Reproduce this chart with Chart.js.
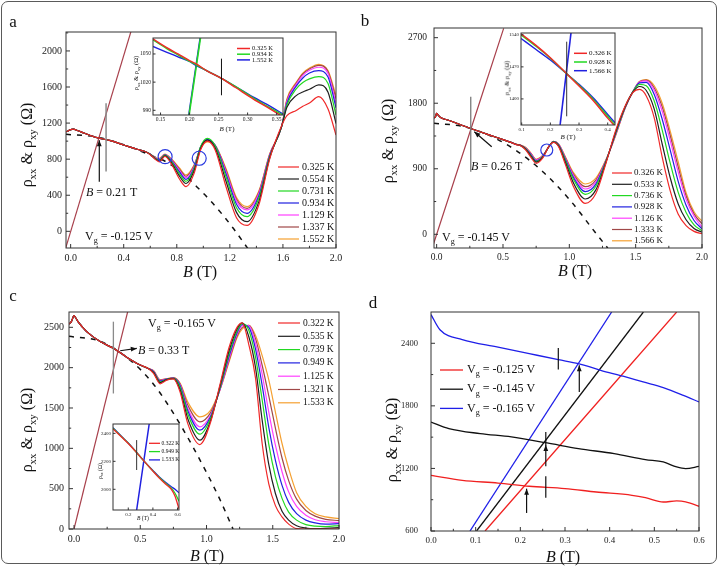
<!DOCTYPE html>
<html>
<head>
<meta charset="utf-8">
<title>rho_xx and rho_xy versus B</title>
<script src="https://cdn.jsdelivr.net/npm/chart.js@4.4.1/dist/chart.umd.min.js"></script>
<style>
  body { margin: 0; background: #fff; }
  #fig { position: relative; width: 720px; height: 567px; overflow: hidden;
         font-family: "Liberation Serif", "DejaVu Serif", serif; color: #111; }
  #fig canvas { position: absolute; }
  .frame { position: absolute; left: 1px; top: 1px; width: 714px; height: 561px;
           border: 1.5px solid #5a5a5a; border-radius: 7px; }
  .t { position: absolute; white-space: nowrap; line-height: 1; }
  .t sub { font-size: 68%; vertical-align: baseline; position: relative; top: 0.35em; }
</style>
</head>
<body>
<div id="fig"><div class="frame"></div></div>
<script>
// ---------- data ----------
var colors7 = ['#f02828', '#202020', '#22d822', '#2020e0', '#ff40ff', '#a04848', '#f5a030'];
var hallColor = '#a8404c';

// panel a, Vg = -0.125 V
var tempsA = ['0.325 K', '0.554 K', '0.731 K', '0.934 K', '1.129 K', '1.337 K', '1.552 K'];
var aLowB = [-0.035, -0.02, 0.0, 0.02, 0.05, 0.1, 0.2, 0.3, 0.4, 0.5, 0.56];
var aLowR = [1105, 1112, 1128, 1132, 1118, 1090, 1038, 1005, 957, 910, 885];
var aHighB = [0.6, 0.64, 0.67, 0.71, 0.76, 0.82, 0.87, 0.93, 0.98, 1.03, 1.09, 1.17, 1.25, 1.33,
              1.42, 1.5, 1.59, 1.63, 1.7, 1.75, 1.8, 1.87, 1.94, 2.0];
var aHighR = [
  [850, 795, 770, 830, 745, 580, 495, 640, 905, 1000, 900, 500, 150, 65, 300, 800, 1170, 1283, 1340, 1386, 1423, 1493, 1356, 1068],
  [852, 800, 780, 838, 760, 612, 530, 668, 922, 1012, 922, 560, 210, 107, 335, 812, 1165, 1375, 1505, 1545, 1575, 1623, 1542, 1195],
  [854, 805, 788, 845, 772, 638, 555, 690, 940, 1030, 945, 610, 262, 163, 375, 825, 1160, 1400, 1580, 1650, 1690, 1715, 1640, 1290],
  [855, 808, 794, 848, 782, 658, 575, 702, 938, 1020, 950, 642, 300, 200, 400, 835, 1160, 1420, 1610, 1700, 1755, 1781, 1710, 1370],
  [856, 810, 800, 850, 790, 675, 595, 716, 934, 1010, 952, 665, 335, 237, 425, 845, 1160, 1440, 1630, 1730, 1785, 1819, 1750, 1420],
  [857, 812, 805, 852, 796, 690, 610, 726, 928, 1002, 952, 682, 355, 255, 440, 852, 1160, 1455, 1640, 1745, 1800, 1841, 1770, 1470],
  [858, 815, 810, 855, 802, 702, 625, 736, 922, 992, 950, 700, 375, 274, 452, 858, 1160, 1467, 1652, 1755, 1810, 1852, 1782, 1505]
];
var aDashB = [-0.035, 0.2, 0.4, 0.6, 0.72, 0.87, 0.95, 1.05, 1.15, 1.23, 1.34];
var aDashR = [1075, 1045, 960, 845, 770, 610, 495, 345, 175, 25, -200];
var aHallB = [-0.04, 0.455];
var aHallR = [-198, 2217];

// panel a inset
var iaLegend = ['0.325 K', '0.934 K', '1.552 K'];
var iaB = [0.137, 0.16, 0.18, 0.2, 0.21, 0.23, 0.255, 0.28, 0.31, 0.34, 0.361];
var iaR = [
  [1066, 1057, 1050, 1043, 1040, 1032, 1024, 1014, 1002, 991, 983],
  [1065, 1056, 1049, 1042, 1039, 1032, 1024, 1015, 1003, 992, 985],
  [1058, 1052, 1047, 1042, 1038, 1032, 1024, 1015, 1004, 994, 986]
];
var iaHallB = [[0.1992, 0.2188], [0.1985, 0.2181]];
var iaHallR = [985, 1067];

// panel b, Vg = -0.145 V
var tempsB = ['0.326 K', '0.533 K', '0.736 K', '0.928 K', '1.126 K', '1.333 K', '1.566 K'];
var bLowB = [-0.02, -0.01, 0.0, 0.01, 0.03, 0.1, 0.2, 0.3, 0.4, 0.5, 0.56];
var bLowR = [1600, 1610, 1660, 1640, 1605, 1560, 1490, 1425, 1362, 1300, 1262];
var bHighB = [0.6, 0.63, 0.67, 0.71, 0.75, 0.8, 0.85, 0.88, 0.92, 0.97, 1.03, 1.12, 1.2, 1.28, 1.35,
              1.42, 1.48, 1.53, 1.58, 1.64, 1.7, 1.76, 1.82, 1.88, 1.94, 2.0];
var bHighR = [
  [1232, 1220, 1160, 1060, 975, 1050, 1220, 1262, 1200, 960, 660, 425, 560, 1000, 1430, 1760, 1950, 1990, 1900, 1600, 1060, 600, 280, 120, 40, 8],
  [1233, 1221, 1170, 1075, 990, 1060, 1218, 1266, 1210, 990, 710, 485, 610, 1010, 1410, 1750, 1955, 2030, 1975, 1720, 1240, 780, 420, 200, 80, 30],
  [1234, 1222, 1175, 1085, 1000, 1065, 1216, 1270, 1220, 1015, 760, 549, 660, 1020, 1400, 1745, 1960, 2060, 2040, 1830, 1430, 980, 580, 300, 130, 50],
  [1235, 1223, 1180, 1095, 1010, 1070, 1215, 1272, 1225, 1030, 785, 586, 690, 1025, 1390, 1740, 1962, 2080, 2085, 1920, 1580, 1160, 730, 400, 190, 75],
  [1236, 1224, 1185, 1105, 1020, 1075, 1214, 1274, 1230, 1045, 810, 622, 720, 1030, 1380, 1735, 1962, 2090, 2108, 1980, 1690, 1290, 860, 480, 250, 100],
  [1237, 1225, 1190, 1110, 1025, 1080, 1213, 1275, 1235, 1055, 830, 654, 745, 1035, 1370, 1732, 1962, 2098, 2118, 2010, 1750, 1360, 930, 530, 280, 145],
  [1238, 1226, 1195, 1115, 1030, 1085, 1212, 1276, 1240, 1065, 850, 691, 770, 1040, 1360, 1730, 1960, 2100, 2125, 2040, 1800, 1420, 1000, 570, 310, 180]
];
var bDashB = [-0.02, 0.2, 0.4, 0.6, 0.8, 1.0, 1.2, 1.29];
var bDashR = [1525, 1480, 1355, 1150, 860, 480, 15, -190];
var bHallB = [-0.04, 0.505];
var bHallR = [-224, 2828];

// panel b inset
var ibLegend = ['0.326 K', '0.928 K', '1.566 K'];
var ibB = [0.0976, 0.15, 0.2, 0.257, 0.3, 0.35, 0.4, 0.4255];
var ibR = [
  [1542, 1517, 1490, 1455, 1428, 1396, 1358, 1340],
  [1540, 1515, 1489, 1455, 1430, 1399, 1362, 1343],
  [1532, 1508, 1485, 1455, 1432, 1402, 1366, 1348]
];
var ibHallB = [0.234, 0.272];
var ibHallR = [1343, 1544];

// panel c, Vg = -0.165 V
var tempsC = ['0.322 K', '0.535 K', '0.739 K', '0.949 K', '1.125 K', '1.321 K', '1.533 K'];
var cLowB = [-0.038, -0.02, 0.0, 0.01, 0.03, 0.06, 0.1, 0.2, 0.3, 0.4, 0.5, 0.56];
var cLowR = [2540, 2570, 2645, 2625, 2570, 2510, 2440, 2320, 2238, 2127, 2032, 1990];
var cHighB = [0.6, 0.65, 0.7, 0.75, 0.8, 0.86, 0.95, 1.03, 1.1, 1.17, 1.23, 1.27, 1.32, 1.37, 1.42,
              1.47, 1.52, 1.57, 1.62, 1.68, 1.75, 1.82, 1.9, 2.0];
var cHighR = [
  [1930, 1800, 1845, 1860, 1700, 1300, 1047, 1320, 1780, 2250, 2500, 2555, 2280, 1870, 1060, 560, 290, 150, 60, 5, 0, 0, 0, 0],
  [1940, 1815, 1852, 1865, 1730, 1360, 1101, 1340, 1760, 2210, 2480, 2555, 2380, 2000, 1350, 800, 440, 220, 110, 40, 12, 5, 8, 18],
  [1945, 1825, 1856, 1868, 1760, 1420, 1175, 1370, 1740, 2170, 2450, 2545, 2460, 2130, 1600, 1050, 650, 380, 210, 110, 55, 35, 30, 43],
  [1950, 1835, 1858, 1870, 1780, 1460, 1225, 1390, 1730, 2140, 2430, 2535, 2500, 2230, 1780, 1260, 850, 540, 330, 190, 110, 75, 60, 66],
  [1955, 1840, 1860, 1872, 1790, 1490, 1267, 1410, 1720, 2110, 2410, 2520, 2520, 2300, 1920, 1450, 1040, 710, 460, 280, 170, 115, 90, 80],
  [1960, 1845, 1862, 1874, 1800, 1530, 1328, 1440, 1720, 2090, 2390, 2500, 2525, 2360, 2030, 1650, 1250, 880, 600, 370, 230, 160, 120, 105],
  [1965, 1850, 1865, 1876, 1810, 1570, 1391, 1470, 1720, 2070, 2370, 2480, 2525, 2400, 2150, 1850, 1450, 1060, 750, 450, 280, 190, 150, 129]
];
var cDashB = [-0.038, 0.2, 0.4, 0.6, 0.8, 1.0, 1.1, 1.2];
var cDashR = [2390, 2325, 2125, 1795, 1300, 700, 370, 0];
var cHallB = [0.0, 0.406];
var cHallR = [0, 2700];

// panel c inset
var icLegend = ['0.322 K', '0.949 K', '1.533 K'];
var icB = [0.076, 0.15, 0.2, 0.25, 0.33, 0.4, 0.45, 0.5, 0.55, 0.58, 0.612];
var icR = [
  [2432, 2370, 2328, 2280, 2200, 2130, 2082, 2040, 2000, 1950, 1860],
  [2436, 2372, 2330, 2281, 2200, 2132, 2086, 2046, 2008, 1972, 1915],
  [2440, 2375, 2331, 2282, 2200, 2135, 2090, 2052, 2018, 2000, 1975]
];
var icHallB = [0.268, 0.37];
var icHallR = [1852, 2467];

// panel d, T = 0.3 K, three gate voltages
var gates = ['-0.125 V', '-0.145 V', '-0.165 V'];
var gateColors = ['#f02020', '#111111', '#1f1fe8'];
var dXxB = [
  [0, 0.07, 0.15, 0.22, 0.3, 0.37, 0.45, 0.48, 0.52, 0.55, 0.57, 0.6],
  [0, 0.04, 0.11, 0.18, 0.26, 0.33, 0.41, 0.48, 0.52, 0.55, 0.57, 0.6],
  [0, 0.02, 0.07, 0.15, 0.22, 0.285, 0.33, 0.38, 0.43, 0.475, 0.52, 0.565, 0.6]
];
var dXxR = [
  [1134, 1086, 1060, 1029, 1007, 974, 942, 920, 878, 888, 880, 837],
  [1645, 1582, 1534, 1502, 1444, 1390, 1342, 1285, 1262, 1214, 1198, 1220],
  [2675, 2530, 2435, 2364, 2301, 2243, 2205, 2141, 2084, 2029, 1975, 1901, 1837]
];
var dXyB = [[0.121, 0.55], [0.102, 0.4755], [0.0873, 0.4045]];
var dXyR = [600, 2700];

// tick labels
var xTicksA = [0, 0.4, 0.8, 1.2, 1.6, 2.0], yTicksA = [0, 400, 800, 1200, 1600, 2000];
var xTicksB = [0, 0.5, 1.0, 1.5, 2.0], yTicksB = [0, 900, 1800, 2700];
var xTicksC = [0, 0.5, 1.0, 1.5, 2.0], yTicksC = [0, 500, 1000, 1500, 2000, 2500];
var xTicksD = [0, 0.1, 0.2, 0.3, 0.4, 0.5, 0.6], yTicksD = [600, 1200, 1800, 2400];
var xTicksIA = [0.15, 0.2, 0.25, 0.3, 0.35], yTicksIA = [990, 1020, 1050];
var xTicksIB = [0.1, 0.2, 0.3, 0.4], yTicksIB = [1400, 1470, 1540];
var xTicksIC = [0.2, 0.4, 0.6], yTicksIC = [2000, 2200, 2400];

// ---------- helpers ----------
var fig = document.getElementById('fig');
var SERIF = "'Liberation Serif', serif";

function pts(xs, ys) {
  return xs.map(function (x, i) { return {x: x, y: ys[i]}; });
}

function curve(xs, ys, color, w, dash) {
  return {
    data: pts(xs, ys), showLine: true, borderColor: color, backgroundColor: color,
    borderWidth: w || 1.2, borderDash: dash || [], pointRadius: 0,
    cubicInterpolationMode: 'monotone', fill: false
  };
}

function tempCurves(lowB, lowR, highB, highR) {
  return highR.map(function (r, i) {
    return curve(lowB.concat(highB), lowR.concat(r), colors7[i], 1.2);
  });
}

function legendItems(labels, colors) {
  return labels.map(function (l, i) { return {color: colors[i], parts: [[l, 0]]}; });
}

function axis(range, ticks, dec, size, pad, thick, horiz) {
  return {
    type: 'linear', min: range[0], max: range[1],
    grid: {display: false, drawTicks: false}, border: {display: false},
    ticks: {
      autoSkip: false, maxRotation: 0, padding: pad, color: '#222',
      font: {family: SERIF, size: size},
      callback: function (v) { return v.toFixed(dec); }
    },
    afterBuildTicks: function (s) { s.ticks = ticks.map(function (v) { return {value: v}; }); },
    afterFit: function (s) { if (horiz) s.height = thick; else s.width = thick; }
  };
}

// box drawn round the plot area, with ticks pointing inwards
var framePlugin = {
  id: 'frame',
  beforeDatasetsDraw: function (chart, args, o) {
    if (!o.fill) return;
    var a = chart.chartArea, ctx = chart.ctx;
    ctx.save();
    ctx.fillStyle = '#fff';
    ctx.fillRect(a.left, a.top, a.right - a.left, a.bottom - a.top);
    ctx.restore();
  },
  afterDraw: function (chart, args, o) {
    var a = chart.chartArea, ctx = chart.ctx, len = o.len;
    ctx.save();
    ctx.strokeStyle = '#333';
    ctx.lineWidth = 1;
    ctx.strokeRect(a.left, a.top, a.right - a.left, a.bottom - a.top);
    ['x', 'y'].forEach(function (id) {
      var s = chart.scales[id];
      var v = s.ticks.map(function (t) { return t.value; });
      var list = v.map(function (t) { return [t, len]; });
      if (o.minor) {
        var st = v[1] - v[0];
        for (var i = -1; i < v.length; i++) {
          var m = v[0] + (i + 0.5) * st;
          if (m > s.min && m < s.max) list.push([m, len * 0.55]);
        }
      }
      list.forEach(function (t) {
        var p = s.getPixelForValue(t[0]);
        ctx.beginPath();
        if (id === 'x') { ctx.moveTo(p, a.bottom); ctx.lineTo(p, a.bottom - t[1]); }
        else { ctx.moveTo(a.left, p); ctx.lineTo(a.left + t[1], p); }
        ctx.stroke();
      });
    });
    ctx.restore();
  }
};

// markers (bars, arrows, circles) and the legend
var marksPlugin = {
  id: 'marks',
  afterDatasetsDraw: function (chart, args, o) {
    var ctx = chart.ctx, sx = chart.scales.x, sy = chart.scales.y;
    ctx.save();
    (o.items || []).forEach(function (m) {
      ctx.strokeStyle = m.color;
      ctx.fillStyle = m.color;
      ctx.lineWidth = m.w || 1.2;
      var x1 = sx.getPixelForValue(m.at[0]), y1 = sy.getPixelForValue(m.at[1]);
      if (m.type === 'circle') {
        ctx.beginPath();
        ctx.arc(x1, y1, m.r, 0, Math.PI * 2);
        ctx.stroke();
        return;
      }
      var x2 = sx.getPixelForValue(m.to[0]), y2 = sy.getPixelForValue(m.to[1]);
      ctx.beginPath();
      ctx.moveTo(x1, y1);
      ctx.lineTo(x2, y2);
      ctx.stroke();
      if (m.type === 'arrow') {
        var ang = Math.atan2(y2 - y1, x2 - x1), h = 6, hw = 2.4;
        var bx = x2 - h * Math.cos(ang), by = y2 - h * Math.sin(ang);
        ctx.beginPath();
        ctx.moveTo(x2, y2);
        ctx.lineTo(bx + hw * Math.sin(ang), by - hw * Math.cos(ang));
        ctx.lineTo(bx - hw * Math.sin(ang), by + hw * Math.cos(ang));
        ctx.closePath();
        ctx.fill();
      }
    });
    var g = o.legend;
    if (g) {
      g.items.forEach(function (it, i) {
        var y = g.y - o.off[1] + i * g.dy, x = g.x - o.off[0];
        ctx.strokeStyle = it.color;
        ctx.lineWidth = g.lw;
        ctx.beginPath();
        ctx.moveTo(x, y);
        ctx.lineTo(x + g.len, y);
        ctx.stroke();
        x += g.len + g.gap;
        ctx.fillStyle = '#111';
        ctx.textBaseline = 'middle';
        ctx.textAlign = 'left';
        it.parts.forEach(function (pt) {
          var size = pt[1] ? g.size * 0.68 : g.size;
          ctx.font = size + 'px ' + SERIF;
          ctx.fillText(pt[0], x, y + (pt[1] ? g.size * 0.35 : 0));
          x += ctx.measureText(pt[0]).width;
        });
      });
    }
    ctx.restore();
  }
};

function panel(p) {
  var c = document.createElement('canvas');
  c.width = p.box[2];
  c.height = p.box[3];
  c.style.left = p.box[0] + 'px';
  c.style.top = p.box[1] + 'px';
  fig.appendChild(c);
  var left = p.area[0] - p.box[0], top = p.area[1] - p.box[1];
  var right = p.box[0] + p.box[2] - p.area[2], bottom = p.box[1] + p.box[3] - p.area[3];
  return new Chart(c, {
    type: 'scatter',
    data: {datasets: p.datasets},
    options: {
      responsive: false, animation: false, events: [],
      layout: {padding: {left: 0, top: top, right: right, bottom: 0}},
      plugins: {
        legend: {display: false}, tooltip: {enabled: false},
        frame: {len: p.tickLen, minor: p.minor, fill: p.fill},
        marks: {off: p.box, items: p.marks || [], legend: p.legend}
      },
      scales: {
        x: axis(p.x, p.xTicks, p.xDec, p.xFont || p.font, p.xPad, bottom, true),
        y: axis(p.y, p.yTicks, 0, p.font, p.yPad, left, false)
      }
    },
    plugins: [framePlugin, marksPlugin]
  });
}

function text(html, x, y, size, rot, leftAlign) {
  var d = document.createElement('div');
  d.className = 't';
  d.innerHTML = html;
  d.style.left = x + 'px';
  d.style.top = y + 'px';
  d.style.fontSize = size + 'px';
  d.style.transform = (leftAlign ? 'translate(0,-50%)' : 'translate(-50%,-50%)') + (rot ? ' rotate(-90deg)' : '');
  fig.appendChild(d);
}

// ---------- main panels ----------
panel({
  box: [0, 0, 360, 280], area: [66, 32, 336, 248],
  x: [-0.035, 2.0], y: [-185, 2210], xTicks: xTicksA, yTicks: yTicksA, xDec: 1,
  font: 10, xPad: 4, yPad: 4, tickLen: 4, minor: true,
  datasets: tempCurves(aLowB, aLowR, aHighB, aHighR).concat([
    curve(aDashB, aDashR, '#111', 1.5, [5, 6]),
    curve(aHallB, aHallR, hallColor, 1.2)
  ]),
  marks: [
    {type: 'line', at: [0.267, 662], to: [0.267, 1420], color: '#8a8a8a', w: 1.5},
    {type: 'arrow', at: [0.216, 550], to: [0.216, 1010], color: '#111', w: 1.2},
    {type: 'circle', at: [0.712, 828], r: 7, color: '#2a3ae0'},
    {type: 'circle', at: [0.969, 810], r: 7, color: '#2a3ae0'}
  ],
  legend: {x: 278, y: 167, dy: 12, len: 21, gap: 3, size: 10, lw: 1.2, items: legendItems(tempsA, colors7)}
});

panel({
  box: [360, 0, 360, 280], area: [434, 28, 702, 248],
  x: [-0.02, 2.0], y: [-188, 2833], xTicks: xTicksB, yTicks: yTicksB, xDec: 1,
  font: 9.5, xPad: 4, yPad: 7, tickLen: 4, minor: true,
  datasets: tempCurves(bLowB, bLowR, bHighB, bHighR).concat([
    curve(bDashB, bDashR, '#111', 1.5, [5, 6]),
    curve(bHallB, bHallR, hallColor, 1.2)
  ]),
  marks: [
    {type: 'line', at: [0.257, 860], to: [0.257, 1890], color: '#7a7a7a', w: 1.3},
    {type: 'arrow', at: [0.415, 1203], to: [0.284, 1409], color: '#111', w: 1.2},
    {type: 'circle', at: [0.83, 1158], r: 6, color: '#2a3ae0'}
  ],
  legend: {x: 612, y: 173, dy: 11.3, len: 20, gap: 2, size: 9, lw: 1.2, items: legendItems(tempsB, colors7)}
});

panel({
  box: [0, 280, 360, 287], area: [69, 312, 339, 529],
  x: [-0.038, 2.0], y: [0, 2690], xTicks: xTicksC, yTicks: yTicksC, xDec: 1,
  font: 10, xPad: 4, yPad: 5, tickLen: 4, minor: true,
  datasets: tempCurves(cLowB, cLowR, cHighB, cHighR).concat([
    curve(cDashB, cDashR, '#111', 1.5, [5, 6]),
    curve(cHallB, cHallR, hallColor, 1.2)
  ]),
  marks: [
    {type: 'line', at: [0.297, 1680], to: [0.297, 2570], color: '#8a8a8a', w: 1.3},
    {type: 'arrow', at: [0.348, 2210], to: [0.474, 2239], color: '#111', w: 1.2}
  ],
  legend: {x: 278, y: 323, dy: 13.3, len: 22, gap: 3, size: 9.5, lw: 1.2, items: legendItems(tempsC, colors7)}
});

panel({
  box: [360, 280, 360, 287], area: [431, 312, 699, 531],
  x: [0, 0.6], y: [600, 2700], xTicks: xTicksD, yTicks: yTicksD, xDec: 1,
  font: 8.5, xFont: 9, xPad: 4, yPad: 13, tickLen: 4, minor: true,
  datasets: dXxR.map(function (r, i) { return curve(dXxB[i], r, gateColors[i], 1.3); })
    .concat(dXyB.map(function (b, i) { return curve(b, dXyR, gateColors[i], 1.3); })),
  marks: [
    {type: 'line', at: [0.285, 2148], to: [0.285, 2355], color: '#111', w: 1.2},
    {type: 'arrow', at: [0.332, 1933], to: [0.332, 2189], color: '#111', w: 1.2},
    {type: 'line', at: [0.257, 1420], to: [0.257, 1549], color: '#111', w: 1.2},
    {type: 'arrow', at: [0.257, 1220], to: [0.257, 1425], color: '#111', w: 1.2},
    {type: 'line', at: [0.257, 920], to: [0.257, 1125], color: '#111', w: 1.2},
    {type: 'arrow', at: [0.214, 773], to: [0.214, 1006], color: '#111', w: 1.2}
  ],
  legend: {x: 440, y: 370, dy: 19.2, len: 23, gap: 4, size: 12, lw: 1.3,
    items: gates.map(function (g, i) {
      return {color: gateColors[i], parts: [['V', 0], ['g', 1], [' = ' + g, 0]]};
    })}
});

// ---------- insets ----------
var insetColors = [colors7[0], colors7[2], colors7[3]];

panel({
  box: [126, 28, 169, 109], area: [153, 38, 283, 115],
  x: [0.137, 0.361], y: [985, 1067], xTicks: xTicksIA, yTicks: yTicksIA, xDec: 2,
  font: 5.5, xPad: 1.5, yPad: 2, tickLen: 2.5, minor: false, fill: true,
  datasets: iaR.map(function (r, i) { return curve(iaB, r, insetColors[i], 1.4); })
    .concat([curve(iaHallB[0], iaHallR, insetColors[1], 1.6), curve(iaHallB[1], iaHallR, insetColors[2], 1.4)]),
  marks: [{type: 'line', at: [0.255, 1006], to: [0.255, 1045], color: '#111', w: 1}],
  legend: {x: 237, y: 48.5, dy: 5.7, len: 13, gap: 2, size: 6.5, lw: 1.5, items: legendItems(iaLegend, insetColors)}
});

panel({
  box: [498, 24, 127, 118], area: [521, 33, 615, 125],
  x: [0.0976, 0.4255], y: [1343, 1544], xTicks: xTicksIB, yTicks: yTicksIB, xDec: 1,
  font: 5, xPad: 1.5, yPad: 2, tickLen: 2.5, minor: false, fill: true,
  datasets: ibR.map(function (r, i) { return curve(ibB, r, insetColors[i], 1.4); })
    .concat([curve(ibHallB, ibHallR, insetColors[2], 1.6)]),
  marks: [{type: 'line', at: [0.257, 1362], to: [0.257, 1525], color: '#333', w: 1}],
  legend: {x: 574, y: 53.3, dy: 8.7, len: 13, gap: 2, size: 7, lw: 1.5, items: legendItems(ibLegend, insetColors)}
});

panel({
  box: [95, 415, 95, 107], area: [113, 424, 179, 510],
  x: [0.076, 0.612], y: [1852, 2467], xTicks: xTicksIC, yTicks: yTicksIC, xDec: 1,
  font: 5, xPad: 1.5, yPad: 2, tickLen: 2.5, minor: false, fill: true,
  datasets: icR.map(function (r, i) { return curve(icB, r, insetColors[i], 1.3); })
    .concat([curve(icHallB, icHallR, insetColors[2], 1.5)]),
  marks: [{type: 'line', at: [0.268, 2138], to: [0.268, 2352], color: '#333', w: 1}],
  legend: {x: 149, y: 443.3, dy: 8.3, len: 11, gap: 1.5, size: 5.5, lw: 1.3, items: legendItems(icLegend, insetColors)}
});

// ---------- text ----------
var rhoTitle = '&rho;<sub>xx</sub> &amp; &rho;<sub>xy</sub> (&Omega;)';
var bTitle = '<i>B</i> (T)';
text('a', 13, 21, 17);
text('b', 365, 20, 17);
text('c', 13, 295, 17);
text('d', 373, 302, 17);
text(rhoTitle, 27, 145, 16, true);
text(rhoTitle, 388, 141, 16, true);
text(rhoTitle, 27, 430, 16, true);
text(rhoTitle, 392, 440, 16, true);
text(bTitle, 200, 272, 16);
text(bTitle, 575, 271, 16);
text(bTitle, 207, 556, 16);
text(bTitle, 563, 557, 16);
text('V<sub>g</sub> = -0.125 V', 85, 236, 12, false, true);
text('V<sub>g</sub> = -0.145 V', 442, 237, 12, false, true);
text('V<sub>g</sub> = -0.165 V', 148, 323, 12, false, true);
text('<i>B</i> = 0.21 T', 86, 192, 12, false, true);
text('<i>B</i> = 0.26 T', 471, 166, 12, false, true);
text('<i>B</i> = 0.33 T', 138, 350, 12, false, true);
text(bTitle, 227, 129, 7);
text(rhoTitle, 136, 73, 6.5, true);
text(bTitle, 568, 137, 7);
text(rhoTitle, 507, 78, 6.5, true);
text(bTitle, 143, 519, 5.5);
text('&rho;<sub>xx</sub> (&Omega;)', 101, 471, 5.5, true);
</script>
</body>
</html>
